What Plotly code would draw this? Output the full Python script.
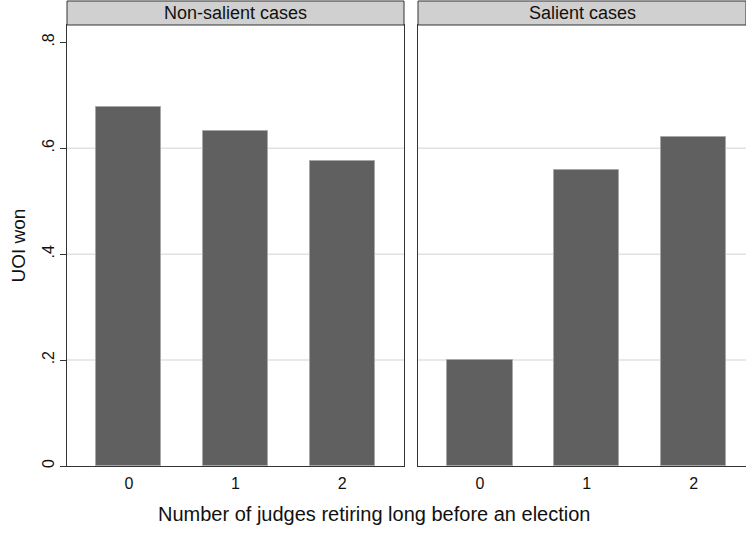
import plotly.graph_objects as go

# Share of cases won by the UOI, by number of judges retiring long before an election
categories = [0, 1, 2]
non_salient = [0.678, 0.633, 0.576]
salient = [0.201, 0.559, 0.622]
panel_titles = ["Non-salient cases", "Salient cases"]
y_tickvals = [0, 0.2, 0.4, 0.6, 0.8]
y_ticktext = ["0", ".2", ".4", ".6", ".8"]
grid_values = [0.2, 0.4, 0.6]

W, H = 746, 533
ML, MR, MT, MB = 67, 0, 25, 67
plot_w = W - ML - MR
plot_h = H - MT - MB

FONT = "Liberation Sans, Arial, Helvetica, sans-serif"
BAR = "#606060"
BAR_EDGE = "#a8a8a8"
FRAME = "#333333"

dom_left = [0, 337 / plot_w]
dom_right = [351 / plot_w, 1]
y_top = 0.8327

fig = go.Figure()
for vals, xa in [(non_salient, "x"), (salient, "x2")]:
    fig.add_trace(go.Bar(
        x=categories, y=vals, xaxis=xa, yaxis="y" if xa == "x" else "y2",
        width=0.61, marker=dict(color=BAR, line=dict(color=BAR_EDGE, width=1)),
        showlegend=False, hoverinfo="skip",
    ))

xcommon = dict(
    tickvals=categories, ticktext=[str(c) for c in categories],
    ticks="outside", ticklen=3, tickcolor="rgba(0,0,0,0)",
    showline=True, linecolor=FRAME, linewidth=1, mirror=True,
    showgrid=False, zeroline=False,
    tickfont=dict(family=FONT, size=16, color="#111"),
)
ycommon = dict(
    range=[0, y_top], showgrid=False, zeroline=False,
    showline=True, linecolor=FRAME, linewidth=1, mirror=True,
)

shapes = []
strip_h = 24 / plot_h
annotations = []
for dom, xref_dom, title in [(dom_left, "x domain", panel_titles[0]),
                             (dom_right, "x2 domain", panel_titles[1])]:
    shapes.append(dict(type="rect", xref="paper", yref="paper",
                       x0=dom[0], x1=dom[1], y0=1, y1=1 + strip_h,
                       fillcolor="#d0d0d0", line=dict(color=FRAME, width=1),
                       layer="above"))
    annotations.append(dict(text=title, xref="paper", yref="paper",
                            x=(dom[0] + dom[1]) / 2, y=1 + strip_h / 2,
                            xanchor="center", yanchor="middle", showarrow=False,
                            font=dict(family=FONT, size=18, color="#111")))
    yref = "y" if xref_dom == "x domain" else "y2"
    for g in grid_values:
        shapes.append(dict(type="line", xref=xref_dom, yref=yref,
                           x0=0, x1=1, y0=g, y1=g,
                           line=dict(color="#e2e2e2", width=1.5), layer="below"))

annotations.append(dict(text="Number of judges retiring long before an election",
                        xref="paper", yref="paper", x=(374 - ML) / plot_w, y=0,
                        yshift=-48, xanchor="center", yanchor="middle",
                        showarrow=False, font=dict(family=FONT, size=20, color="#111")))
annotations.append(dict(text="UOI won", xref="paper", yref="paper",
                        x=(18 - ML) / plot_w, y=0.5, xanchor="center",
                        yanchor="middle", textangle=-90, showarrow=False,
                        font=dict(family=FONT, size=19, color="#111")))

fig.update_layout(
    width=W, height=H,
    margin=dict(l=ML, r=MR, t=MT, b=MB),
    paper_bgcolor="white", plot_bgcolor="white",
    bargap=0,
    xaxis=dict(domain=dom_left, range=[-0.58, 2.58], anchor="y", **xcommon),
    xaxis2=dict(domain=dom_right, range=[-0.58, 2.49], anchor="y2", **xcommon),
    yaxis=dict(anchor="x", tickvals=y_tickvals, ticktext=y_ticktext,
               ticks="outside", ticklen=6, tickcolor=FRAME, tickangle=-90,
               tickfont=dict(family=FONT, size=16, color="#111"), **ycommon),
    yaxis2=dict(anchor="x2", matches="y", showticklabels=False, ticks="",
                **ycommon),
    shapes=shapes, annotations=annotations,
)

fig.write_html("out.html")
